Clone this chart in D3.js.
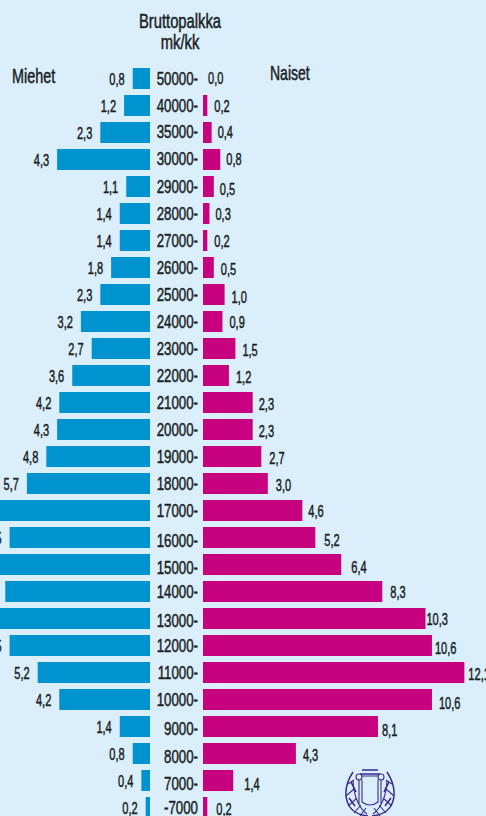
<!DOCTYPE html>
<html><head><meta charset="utf-8">
<script src="https://cdn.jsdelivr.net/npm/d3@7"></script>
<style>
html,body{margin:0;padding:0;background:#dbeefc;overflow:hidden}
svg{display:block}
text{font-family:"Liberation Sans Narrow","Liberation Sans",sans-serif;fill:#1a1f24;stroke:#1a1f24;stroke-width:.5px}
</style></head><body>
<div id="chart"></div>
<script>
const categories=["50000-","40000-","35000-","30000-","29000-","28000-","27000-","26000-","25000-","24000-","23000-","22000-","21000-","20000-","19000-","18000-","17000-","16000-","15000-","14000-","13000-","12000-","11000-","10000-","9000-","8000-","7000-","-7000"];
const men=[0.8,1.2,2.3,4.3,1.1,1.4,1.4,1.8,2.3,3.2,2.7,3.6,4.2,4.3,4.8,5.7,7.6,6.5,8.2,6.7,8.5,6.5,5.2,4.2,1.4,0.8,0.4,0.2];
const women=[0.0,0.2,0.4,0.8,0.5,0.3,0.2,0.5,1.0,0.9,1.5,1.2,2.3,2.3,2.7,3.0,4.6,5.2,6.4,8.3,10.3,10.6,12.1,10.6,8.1,4.3,1.4,0.2];
const titleLines=["Bruttopalkka","mk/kk"];
const seriesNames=["Miehet","Naiset"];
// hand-set typesetting offsets of the labels in the original
const tickNudge=[0,0,-1,-1,0,0,0,0,0,0,0,0,0,0,0,0,0,3,3,0,2,0,0,0,2,3,3,0];
const womenNudge=[-1,0,-1,-1,2,0,0,1,2,0,1,1,1,1,1,1,0,2,2,0,0,2,1,3,3,1,3,1];
const womenGap=[5,7,6,6,6,6,7,7,7,7,7,7,6,6,8,8,6,9,10,8,1,3,4,7,4,7,11,9];

const W=486,H=816;
const fmt=v=>v.toFixed(1).replace(".",",");
const svg=d3.select("#chart").append("svg").attr("width",W).attr("height",H);
svg.append("rect").attr("width",W).attr("height",H).attr("fill","#dbeefc");

const y=d3.scaleBand().domain(categories).range([68,68+27*categories.length-6]).paddingInner(6/27).paddingOuter(0);
const xM=d3.scaleLinear().domain([0,10]).range([150,150-216]);
const xW=d3.scaleLinear().domain([0,13]).range([203,203+13*21.6]);

svg.append("g").selectAll("rect").data(categories).join("rect")
 .attr("x",(d,i)=>xM(men[i])).attr("y",d=>y(d)).attr("width",(d,i)=>xM(0)-xM(men[i])).attr("height",y.bandwidth()).attr("fill","#0093d0");
svg.append("g").selectAll("rect").data(categories).join("rect")
 .attr("x",xW(0)).attr("y",d=>y(d)).attr("width",(d,i)=>xW(women[i])-xW(0)).attr("height",y.bandwidth()).attr("fill","#c6007e");

const mid=d=>y(d)+y.bandwidth()/2+6;
function squeezed(g,x,yy,anchor,str,size,sx){
  g.append("text").attr("transform",`translate(${x},${yy}) scale(${sx},1)`).attr("text-anchor",anchor).attr("font-size",size).text(str);
}
const g=svg.append("g");
categories.forEach((c,i)=>{
  squeezed(g,198,mid(c)+tickNudge[i]+0.5,"end",c,19,0.7);
  squeezed(g,xM(men[i])-8,mid(c),"end",fmt(men[i]),17,0.65);
  squeezed(g,xW(women[i])+womenGap[i],mid(c)+womenNudge[i],"start",fmt(women[i]),17,0.65);
});
titleLines.forEach((t,i)=>squeezed(g,180,28+i*21,"middle",t,20,0.74));
squeezed(g,12,83,"start",seriesNames[0],20,0.72);
squeezed(g,270,80,"start",seriesNames[1],20,0.7);

// emblem
const e=svg.append("g").attr("transform","translate(370,794)").attr("fill","none").attr("stroke","#3a2a8c").attr("stroke-width",1.1);
e.append("path").attr("stroke-width",1.5).attr("d","M-8,-24H8M-10,-20H10");
e.append("path").attr("d","M-11,-14V10M11,-14V10M-8,-14V8Q0,14 8,8V-14M-8,-18H8");
e.append("circle").attr("cx",-11).attr("cy",-17).attr("r",3);
e.append("circle").attr("cx",11).attr("cy",-17).attr("r",3);
[-1,1].forEach(s=>{
  e.append("path").attr("stroke-width",1.5).attr("d",`M${s*2},22Q${s*22},20 ${s*24},2Q${s*25},-10 ${s*17},-22`);
  e.append("path").attr("d",`M${s*3},20Q${s*16},10 ${s*17},-14M${s*22},12L${s*13},4M${s*24},2L${s*15},-6M${s*22},-10L${s*16},-14M${s*16},19L${s*9},11M${s*10},22L${s*4},14`);
  e.append("path").attr("stroke-width",1.6).attr("d",`M${s*19},-12L${s*14},-2M${s*21},4L${s*15},12`);
});
</script></body></html>
